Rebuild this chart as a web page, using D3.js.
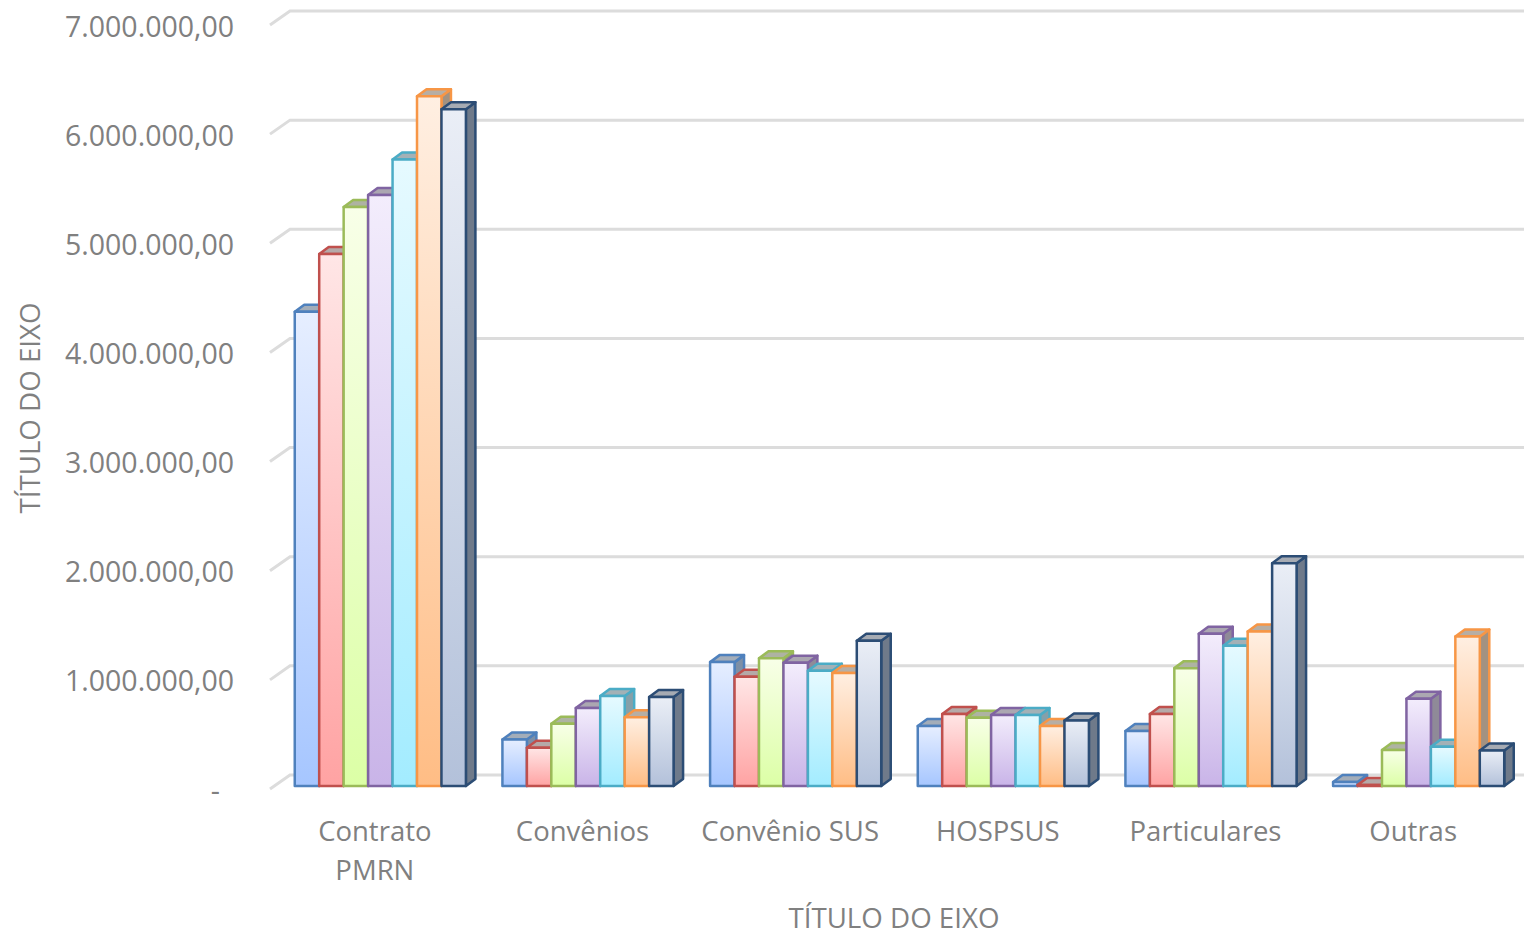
<!DOCTYPE html>
<html>
<head>
<meta charset="utf-8">
<title>Receita por fonte</title>
<script src="https://cdnjs.cloudflare.com/ajax/libs/d3/7.8.5/d3.min.js"></script>
<style>
    html, body { margin: 0; padding: 0; background: #ffffff; overflow: hidden; }
    text { font-family: "Open Sans", sans-serif; fill: #808080; }
</style>
</head>
<body>
<div id="chart"></div>
<script>
// Data
const categories = ['Contrato PMRN', 'Convênios', 'Convênio SUS', 'HOSPSUS', 'Particulares', 'Outras'];
const categoryLines = [['Contrato', 'PMRN'], ['Convênios'], ['Convênio SUS'], ['HOSPSUS'], ['Particulares'], ['Outras']];
const serie1 = [4345000, 425000, 1135000, 550000, 505000, 37000];
const serie2 = [4875000, 350000, 1000000, 660000, 660000, 10000];
const serie3 = [5305000, 570000, 1170000, 625000, 1080000, 330000];
const serie4 = [5415000, 715000, 1130000, 650000, 1395000, 800000];
const serie5 = [5740000, 825000, 1055000, 650000, 1285000, 360000];
const serie6 = [6320000, 630000, 1035000, 550000, 1415000, 1370000];
const serie7 = [6200000, 815000, 1330000, 600000, 2040000, 325000];
const series = [serie1, serie2, serie3, serie4, serie5, serie6, serie7];
const yTicks = [0, 1000000, 2000000, 3000000, 4000000, 5000000, 6000000, 7000000];

// Colours per series: edge, gradient top, gradient bottom, top face, side face
const edgeColors = ['#4f81bd', '#c0504d', '#9bbb59', '#8064a2', '#4bacc6', '#f79646', '#2c4d75'];
const lightColors = ['#e6eeff', '#ffe6e6', '#f8ffe8', '#f3edfc', '#e6faff', '#ffefe2', '#eaeef6'];
const darkColors = ['#a6c6ff', '#ffa3a3', '#dcffa6', '#c9b4e8', '#a3ecff', '#ffbd85', '#b3c1da'];
const topColors = ['#a3adb9', '#b5a9a8', '#aeb3a2', '#aba7b1', '#a3b1b6', '#b7aea4', '#a6abb3'];
const sideColors = ['#7d8fa6', '#a08e8c', '#8e9580', '#8f8a98', '#85a0a9', '#a39281', '#6f7a8a'];

const width = 1524;
const height = 930;
const depthX = 9.5;   // bar depth
const depthY = 7;
const wallX = 20;     // floor depth
const wallY = 14;
const wallLift = 11;  // back wall sits above the bar fronts
const barWidth = 24.45;

const svg = d3.select('#chart').append('svg')
    .attr('width', width)
    .attr('height', height);

const x0 = d3.scaleBand().domain(categories).range([271, 1517]);
const y = d3.scaleLinear().domain([0, 7000000]).range([786, 22]);
const seriesIndex = d3.range(series.length);
const x1 = d3.scaleBand().domain(seriesIndex).range([0, barWidth * series.length]);

const fmt = d3.formatLocale({ decimal: ',', thousands: '.', grouping: [3], currency: ['', ''] }).format(',.2f');

// Gradients for the bar fronts
const defs = svg.append('defs');
seriesIndex.forEach(i => {
    const grad = defs.append('linearGradient')
        .attr('id', 'grad' + i)
        .attr('x1', 0).attr('y1', 0)
        .attr('x2', 0).attr('y2', 1);
    grad.append('stop').attr('offset', '0%').attr('stop-color', lightColors[i]);
    grad.append('stop').attr('offset', '100%').attr('stop-color', darkColors[i]);
});

// Back wall gridlines with their floor-side ticks
const grid = svg.append('g');
yTicks.forEach(t => {
    const yb = y(t) - wallLift;
    grid.append('polyline')
        .attr('points', `270,${yb + wallY} ${270 + wallX},${yb} ${width},${yb}`)
        .attr('fill', 'none')
        .attr('stroke', '#dcdcdc')
        .attr('stroke-width', 3);
});

// Bars, left to right so the next front covers the previous side
const bars = svg.append('g');
categories.forEach((cat, c) => {
    const groupLeft = x0(cat) + x0.bandwidth() / 2 + 5.5 - barWidth * series.length / 2;
    seriesIndex.forEach(i => {
        const xa = groupLeft + x1(i);
        const xb = xa + x1.bandwidth();
        const yt = y(series[i][c]);
        const yf = y(0);
        const g = bars.append('g')
            .attr('stroke', edgeColors[i])
            .attr('stroke-width', 2.5)
            .attr('stroke-linejoin', 'round');
        // side face
        g.append('path')
            .attr('d', `M${xb},${yt}L${xb + depthX},${yt - depthY}L${xb + depthX},${yf - depthY}L${xb},${yf}Z`)
            .attr('fill', sideColors[i]);
        // top face
        g.append('path')
            .attr('d', `M${xa},${yt}L${xa + depthX},${yt - depthY}L${xb + depthX},${yt - depthY}L${xb},${yt}Z`)
            .attr('fill', topColors[i]);
        // front face
        g.append('rect')
            .attr('x', xa)
            .attr('y', yt)
            .attr('width', xb - xa)
            .attr('height', yf - yt)
            .attr('fill', `url(#grad${i})`);
    });
});

// Y axis labels
const yAxis = d3.axisLeft(y)
    .tickValues(yTicks)
    .tickSize(0)
    .tickPadding(0)
    .tickFormat(d => d === 0 ? '-' : fmt(d));
const yAxisG = svg.append('g')
    .attr('transform', 'translate(234,5)')
    .call(yAxis);
yAxisG.select('.domain').remove();
yAxisG.selectAll('text')
    .style('font-family', '"Open Sans", sans-serif')
    .style('font-size', '28.5px');
// the dash for zero sits left of the number column
yAxisG.selectAll('.tick').filter(d => d === 0).select('text').attr('x', -14);

// Category labels
const xAxis = d3.axisBottom(x0).tickSize(0).tickFormat('');
const xAxisG = svg.append('g')
    .attr('transform', 'translate(0,791)')
    .call(xAxis);
xAxisG.select('.domain').remove();
xAxisG.selectAll('.tick').each(function(d, c) {
    const label = d3.select(this).select('text')
        .attr('y', 0)
        .attr('dy', null)
        .style('font-family', '"Open Sans", sans-serif')
        .style('font-size', '27.5px');
    categoryLines[c].forEach((line, n) => {
        label.append('tspan')
            .attr('x', 0)
            .attr('y', 50 + n * 39)
            .text(line);
    });
});

// Axis titles
svg.append('text')
    .attr('x', 894)
    .attr('y', 928)
    .attr('text-anchor', 'middle')
    .attr('font-size', '27.7px')
    .text('TÍTULO DO EIXO');

svg.append('text')
    .attr('transform', 'translate(40,408) rotate(-90)')
    .attr('text-anchor', 'middle')
    .attr('font-size', '27.7px')
    .text('TÍTULO DO EIXO');
</script>
</body>
</html>
